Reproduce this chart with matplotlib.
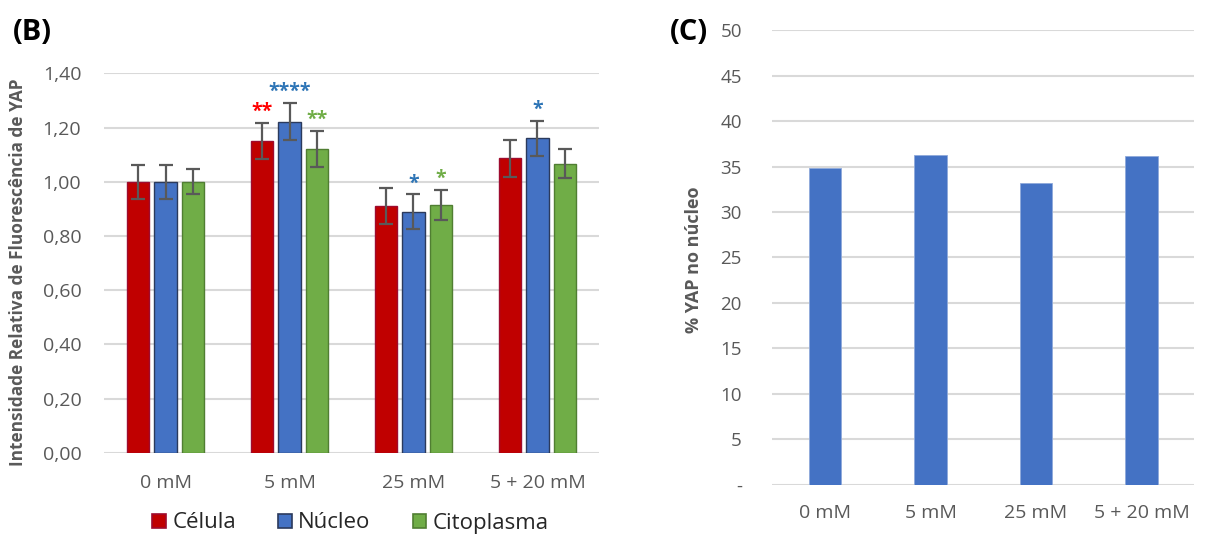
import matplotlib.pyplot as plt
import numpy as np

plt.rcParams['font.family'] = ['Open Sans', 'DejaVu Sans']

# (B) relative YAP fluorescence per compartment
grupos = ["0 mM", "5 mM", "25 mM", "5 + 20 mM"]
series = ["Célula", "Núcleo", "Citoplasma"]
celula = [1.00, 1.150, 0.909, 1.086]
nucleo = [1.00, 1.221, 0.889, 1.160]
citoplasma = [1.00, 1.121, 0.914, 1.066]
erro_celula = [0.062, 0.067, 0.066, 0.069]
erro_nucleo = [0.062, 0.068, 0.064, 0.064]
erro_citoplasma = [0.047, 0.065, 0.057, 0.053]
# significance marks: (series index, group index, text)
asteriscos = [(0, 1, "**"), (1, 1, "****"), (2, 1, "**"),
              (1, 2, "*"), (2, 2, "*"), (1, 3, "*")]

# (C) percentage of YAP in the nucleus
yap_nucleo = [34.87, 36.29, 33.15, 36.14]

cores = ["#C00000", "#4472C4", "#70AD47"]
bordas = ["#9E0B2E", "#2B3A5C", "#507E32"]
cores_ast = ["#FF0000", "#2E75B6", "#70AD47"]
cinza = "#595959"
grade = "#D9D9D9"
negrito = dict(family="Open Sans", fontweight="bold")

fig = plt.figure(figsize=(12.05, 5.34), dpi=100)

# ---- panel B ----
axB = fig.add_axes([0.0859, 0.1522, 0.4116, 0.7105])
x = np.arange(len(grupos))
largura = 0.18
passo = 0.222
valores = [celula, nucleo, citoplasma]
erros = [erro_celula, erro_nucleo, erro_citoplasma]
for i in range(3):
    pos = x + (i - 1) * passo
    axB.bar(pos, valores[i], width=largura, color=cores[i],
            edgecolor=bordas[i], linewidth=1.0, zorder=3, label=series[i])
    axB.errorbar(pos, valores[i], yerr=erros[i], fmt="none", ecolor=cinza,
                 elinewidth=1.6, capsize=5, capthick=1.6, zorder=4)

for s, g, txt in asteriscos:
    topo = valores[s][g] + erros[s][g]
    axB.annotate(txt, (x[g] + (s - 1) * passo, topo), xytext=(0, 8),
                 textcoords="offset points", ha="center", va="center",
                 fontsize=14, fontweight="bold", color=cores_ast[s],
                 family="Open Sans")

axB.set_xlim(-0.5, len(grupos) - 0.5)
axB.set_ylim(0, 1.4)
ticks_b = np.arange(0, 1.41, 0.2)
axB.set_yticks(ticks_b)
axB.set_yticklabels([f"{v:.2f}".replace(".", ",") for v in ticks_b])
axB.set_xticks(x)
axB.set_xticklabels(grupos)
axB.tick_params(axis="y", length=0, pad=16, labelsize=14, labelcolor=cinza)
axB.tick_params(axis="x", length=0, pad=15, labelsize=14, labelcolor=cinza)
axB.yaxis.grid(True, color=grade, linewidth=1.5, zorder=0)
for sp in axB.spines.values():
    sp.set_visible(False)

handles = [plt.Rectangle((0, 0), 1, 1, facecolor=cores[i], edgecolor=bordas[i],
                         linewidth=1.2) for i in range(3)]
fig.legend(handles, series, loc="center", bbox_to_anchor=(0.291, 1 - 523 / 534),
           ncol=3, frameon=False, fontsize=16, handlelength=0.6,
           handleheight=0.6, handletextpad=0.3, columnspacing=1.9,
           labelcolor="#262626")

fig.text(18 / 1205, 1 - 272 / 534, "Intensidade Relativa de Fluorescência de YAP",
         rotation=90, ha="center", va="center", fontsize=12.4,
         color=cinza, **negrito)
fig.text(13 / 1205, 1 - 32 / 534, "(B)", ha="left", va="center",
         fontsize=21, color="black", **negrito)

# ---- panel C ----
axC = fig.add_axes([0.641, 0.0918, 0.350, 0.852])
axC.bar(x, yap_nucleo, width=0.31, color="#4472C4", edgecolor="#8EA9DB",
        linewidth=0.6, zorder=3)
axC.set_xlim(-0.5, len(grupos) - 0.5)
axC.set_ylim(0, 50)
axC.set_yticks(np.arange(0, 51, 5))
axC.set_yticklabels(["-"] + [str(v) for v in range(5, 51, 5)])
axC.set_xticks(x)
axC.set_xticklabels(grupos)
axC.tick_params(axis="y", length=0, pad=22, labelsize=13.5, labelcolor=cinza)
axC.tick_params(axis="x", length=0, pad=14, labelsize=14, labelcolor=cinza)
axC.yaxis.grid(True, color=grade, linewidth=1.5, zorder=0)
for sp in axC.spines.values():
    sp.set_visible(False)

fig.text(694 / 1205, 1 - 260 / 534, "% YAP no núcleo", rotation=90,
         ha="center", va="center", fontsize=13, color=cinza, **negrito)
fig.text(670 / 1205, 1 - 32 / 534, "(C)", ha="left", va="center",
         fontsize=21, color="black", **negrito)

fig.savefig("out.png", dpi=100)
